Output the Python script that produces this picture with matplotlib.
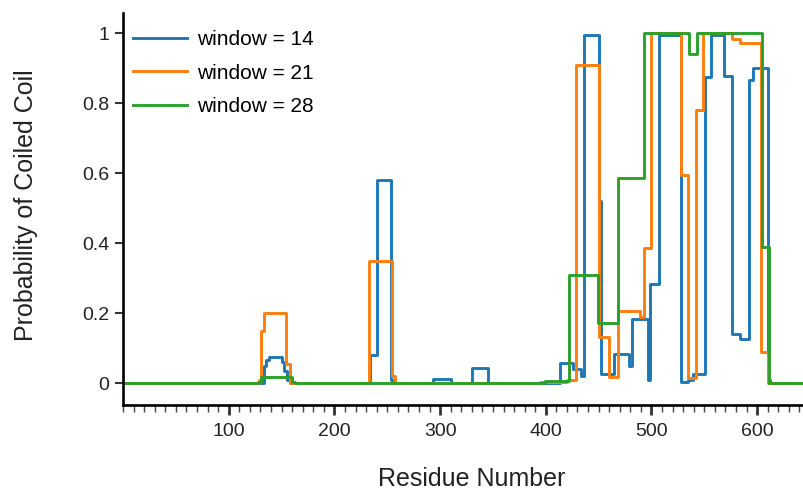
import matplotlib
matplotlib.use('Agg')
import matplotlib.pyplot as plt
from matplotlib.ticker import MultipleLocator, FuncFormatter

plt.rcParams['font.family'] = ['Liberation Sans', 'DejaVu Sans']

# Step breakpoints: residue where a new value starts, and that value
w14_x = [0, 133, 135, 138, 150, 152, 155, 158, 234, 240, 254, 257, 293, 310, 330, 345,
         413, 426, 433, 436, 450.5, 452, 465, 479, 482, 497, 499, 507, 528, 535, 539,
         551, 556, 569, 576, 584, 592, 596, 610, 612, 650]
w14_y = [0, 0.05, 0.066, 0.077, 0.06, 0.036, 0.01, 0, 0.08, 0.582, 0.01, 0, 0.014, 0, 0.043, 0,
         0.059, 0.042, 0.02, 0.995, 0.52, 0.028, 0.085, 0.051, 0.185, 0.01, 0.283, 0.995, 0.004, 0.01, 0.026,
         0.875, 0.995, 0.877, 0.14, 0.128, 0.866, 0.902, 0.01, 0, 0]

w21_x = [0, 129, 131, 133, 154.5, 158, 233, 254.5, 257, 395, 420, 428.5, 450.5, 460, 468.5,
         489, 493, 500, 527.5, 535, 542, 549, 576.5, 584, 604, 610, 650]
w21_y = [0, 0.01, 0.15, 0.2, 0.056, 0, 0.349, 0.02, 0, 0.005, 0.011, 0.909, 0.134, 0.018, 0.207,
         0.19, 0.387, 1.0, 0.594, 0.015, 0.78, 1.0, 0.985, 0.971, 0.09, 0, 0]

w28_x = [0, 128, 131, 160, 163, 399.5, 421.7, 449.5, 468, 493, 535.4, 542.6, 605, 611, 650]
w28_y = [0, 0.005, 0.018, 0.004, 0, 0.007, 0.309, 0.172, 0.588, 1.0, 0.942, 1.0, 0.391, 0, 0]

series = [
    ('window = 14', w14_x, w14_y, '#1f77b4'),
    ('window = 21', w21_x, w21_y, '#ff7f0e'),
    ('window = 28', w28_x, w28_y, '#2ca02c'),
]

W, H = 804, 492
fig = plt.figure(figsize=(W / 100, H / 100), dpi=100)
ax = fig.add_axes([123 / W, 1 - 405 / H, 1 - 123 / W, (405 - 13) / H])

for label, xs, ys, color in series:
    ax.step(xs, ys, where='post', color=color, lw=2.1, label=label)

ax.set_xlim(0, 644.3)
ax.set_ylim(-0.0614, 1.058)

for s in ['top', 'right']:
    ax.spines[s].set_visible(False)
for s in ['left', 'bottom']:
    ax.spines[s].set_linewidth(1.9)
    ax.spines[s].set_color('black')

ax.set_xticks([100, 200, 300, 400, 500, 600])
ax.xaxis.set_minor_locator(MultipleLocator(10))
ax.set_yticks([0, 0.2, 0.4, 0.6, 0.8, 1.0])
ax.yaxis.set_major_formatter(FuncFormatter(lambda v, p: f'{v:g}'))

ax.tick_params(axis='x', which='major', length=7, width=2.0, color='#333333',
               labelsize=14, labelcolor='#222222', pad=6)
ax.tick_params(axis='x', which='minor', length=5, width=1.0, color='#444444')
ax.tick_params(axis='y', which='major', length=6, width=1.5, color='#333333',
               labelsize=14, labelcolor='#222222', pad=4)

ax.set_xlabel('Residue Number', fontsize=18, color='#222222')
ax.xaxis.label.set_va('baseline')
ax.xaxis.set_label_coords(0.5125, (405 - 486) / 392)
ax.set_ylabel('Probability of Coiled Coil', fontsize=18, color='#222222')
ax.yaxis.set_label_coords(-0.125, 0.51)

ax.legend(loc='upper left', bbox_to_anchor=(0.0147, 0.957), frameon=False,
          fontsize=15, handlelength=2.6, handletextpad=0.45, labelspacing=0.71,
          borderpad=0, borderaxespad=0)

fig.savefig('out.png', dpi=100)
